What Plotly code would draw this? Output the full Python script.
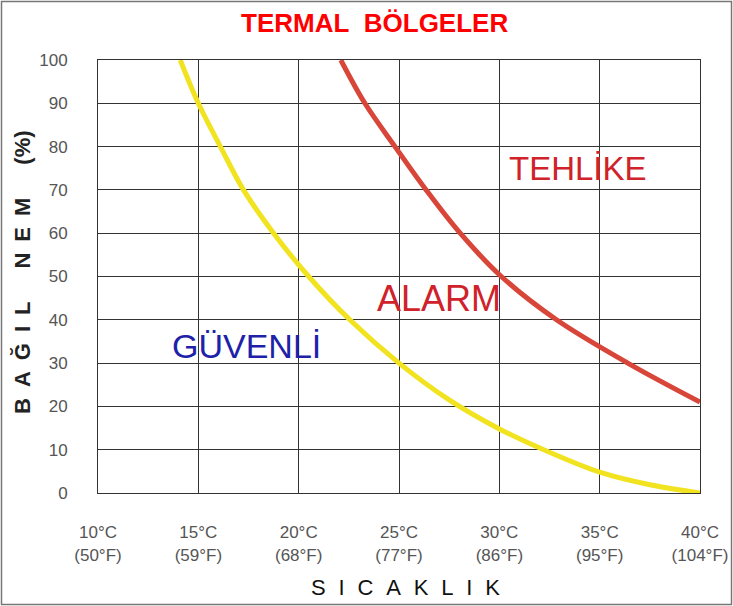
import plotly.graph_objects as go

# --- data ---
safe_temp = [14.1, 15.0, 16.1, 17.25, 18.75, 20.5, 22.55, 25.0, 27.5, 30.0, 32.5, 35.0, 37.5, 40.0]
safe_rh   = [100, 90, 80, 70, 60, 50, 40, 30, 21.5, 14.8, 9.4, 4.8, 1.9, 0]
danger_temp = [22.1, 23.3, 24.8, 26.35, 28.05, 30.1, 32.85, 36.4, 40.0]
danger_rh   = [100, 90, 80, 70, 60, 50, 40, 30, 21]

x_ticks = [10, 15, 20, 25, 30, 35, 40]
x_labels = ["10°C<br>(50°F)", "15°C<br>(59°F)", "20°C<br>(68°F)", "25°C<br>(77°F)",
            "30°C<br>(86°F)", "35°C<br>(95°F)", "40°C<br>(104°F)"]
y_ticks = [0, 10, 20, 30, 40, 50, 60, 70, 80, 90, 100]

zone_labels = ["TEHLİKE", "ALARM", "GÜVENLİ"]
zone_x = [33.9, 27.0, 17.4]
zone_y = [75, 45, 34]
zone_colors = ["#d0222a", "#d0222a", "#1e22a8"]
zone_sizes = [33, 36, 34]

W, H = 733, 606
L, R, T, B = 98, 33, 60, 113
pw, ph = W - L - R, H - T - B

def px(xp):
    return (xp - L) / pw

def py(yp):
    return (H - B - yp) / ph

font = "Liberation Sans, Arial, sans-serif"

fig = go.Figure()
fig.add_trace(go.Scatter(x=safe_temp, y=safe_rh, mode="lines",
                         line=dict(color="#f1e31f", width=5, shape="spline", smoothing=1.0),
                         hoverinfo="skip", showlegend=False))
fig.add_trace(go.Scatter(x=danger_temp, y=danger_rh, mode="lines",
                         line=dict(color="#d8463a", width=5, shape="spline", smoothing=1.0),
                         hoverinfo="skip", showlegend=False))

for t, xx, yy, c, s in zip(zone_labels, zone_x, zone_y, zone_colors, zone_sizes):
    fig.add_annotation(x=xx, y=yy, text=t, showarrow=False,
                       font=dict(family=font, size=s, color=c),
                       xanchor="center", yanchor="middle")

sp = "\u2002"
fig.add_annotation(xref="paper", yref="paper", x=px(374), y=py(23),
                   text="<b>TERMAL\u00a0\u00a0BÖLGELER</b>", showarrow=False,
                   font=dict(family=font, size=26, color="#ff0000"),
                   xanchor="center", yanchor="middle")
fig.add_annotation(xref="paper", yref="paper", x=px(405), y=py(587),
                   text=(sp + "\u200a").join("SICAKLIK"), showarrow=False,
                   font=dict(family=font, size=22, color="#111"),
                   xanchor="center", yanchor="middle")
ytitle = (sp.join("BAĞIL") + sp * 3 + sp.join("NEM") + sp * 3 + "(%)")
fig.add_annotation(xref="paper", yref="paper", x=px(22), y=py(272),
                   text="<b>" + ytitle + "</b>", textangle=-90, showarrow=False,
                   font=dict(family=font, size=22, color="#222"),
                   xanchor="center", yanchor="middle")

fig.add_shape(type="rect", xref="paper", yref="paper",
              x0=px(1.5), x1=px(731.5), y0=py(604.5), y1=py(1.5),
              line=dict(color="#777", width=1.5), layer="above")

fig.update_xaxes(range=[10, 40], tickmode="array", tickvals=x_ticks, ticktext=x_labels,
                 showgrid=True, gridcolor="#333", gridwidth=1,
                 showline=True, linecolor="#333", linewidth=1, mirror=True,
                 zeroline=False, ticks="", ticklabelstandoff=24,
                 tickfont=dict(family=font, size=17, color="#555"), fixedrange=True)
fig.update_yaxes(range=[0, 100], tickmode="array", tickvals=y_ticks,
                 showgrid=True, gridcolor="#333", gridwidth=1,
                 showline=True, linecolor="#333", linewidth=1, mirror=True,
                 zeroline=False, ticks="", ticklabelstandoff=26,
                 tickfont=dict(family=font, size=17, color="#555"), fixedrange=True)

fig.update_layout(width=W, height=H, margin=dict(l=L, r=R, t=T, b=B, autoexpand=False),
                  paper_bgcolor="white", plot_bgcolor="white", showlegend=False)

fig.write_html("out.html", config={"displayModeBar": False},
               post_script="document.body.style.margin='0';")
